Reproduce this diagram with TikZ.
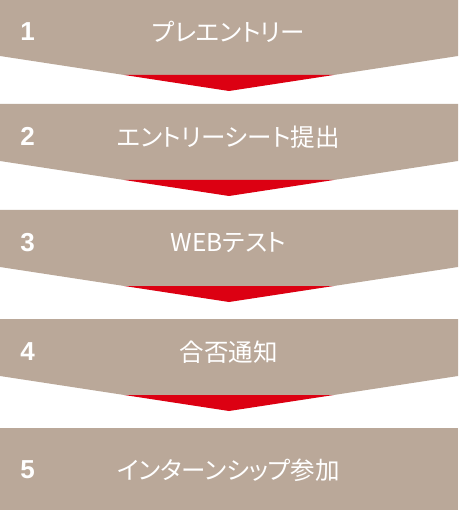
\documentclass[tikz,border=0pt]{standalone}
\usepackage{fontspec}
\setmainfont{Liberation Sans}
\newfontfamily\jpfont[RawFeature=+palt]{Noto Sans CJK JP}
\newfontfamily\numfont{Liberation Sans}
\definecolor{bandtan}{HTML}{BAA899}
\definecolor{bandred}{HTML}{DC0012}
\tikzset{
  numlabel/.style={text=white, font=\numfont\bfseries\fontsize{26}{26}\selectfont, anchor=center, inner sep=0pt},
  steplabel/.style={text=white, font=\jpfont\fontsize{24.5}{24.5}\selectfont, anchor=center, inner sep=0pt},
}
\newcommand{\chevband}[4]{%
  % #1 top y (downward px), #2 number, #3 label, #4 name
  \fill[bandtan] (0,-#1) -- (458,-#1) -- (458,-#1-57) -- (333.7,-#1-76) -- (124.3,-#1-76) -- (0,-#1-57) -- cycle;
  \fill[bandred] (124.3,-#1-76) -- (333.7,-#1-76) -- (229,-#1-92) -- cycle;
  \node[numlabel] (n#4) at (27.5,-#1-32.5) {#2};
  \node[steplabel] (t#4) at (228.5,-#1-33) {#3};
}
\begin{document}
\begin{tikzpicture}[x=1pt,y=1pt]
\useasboundingbox (0,0) rectangle (458,-510);
\fill[white] (0,0) rectangle (458,-510);
\chevband{-1}{1}{プレエントリー}{a}
\chevband{104}{2}{エントリーシート提出}{b}
\chevband{210}{3}{WEBテスト}{c}
\chevband{319}{4}{合否通知}{d}
\fill[bandtan] (0,-428) rectangle (458,-510);
\node[numlabel] (ne) at (27.5,-470) {5};
\node[steplabel] (te) at (228.5,-470) {インターンシップ参加};
\end{tikzpicture}
\end{document}
